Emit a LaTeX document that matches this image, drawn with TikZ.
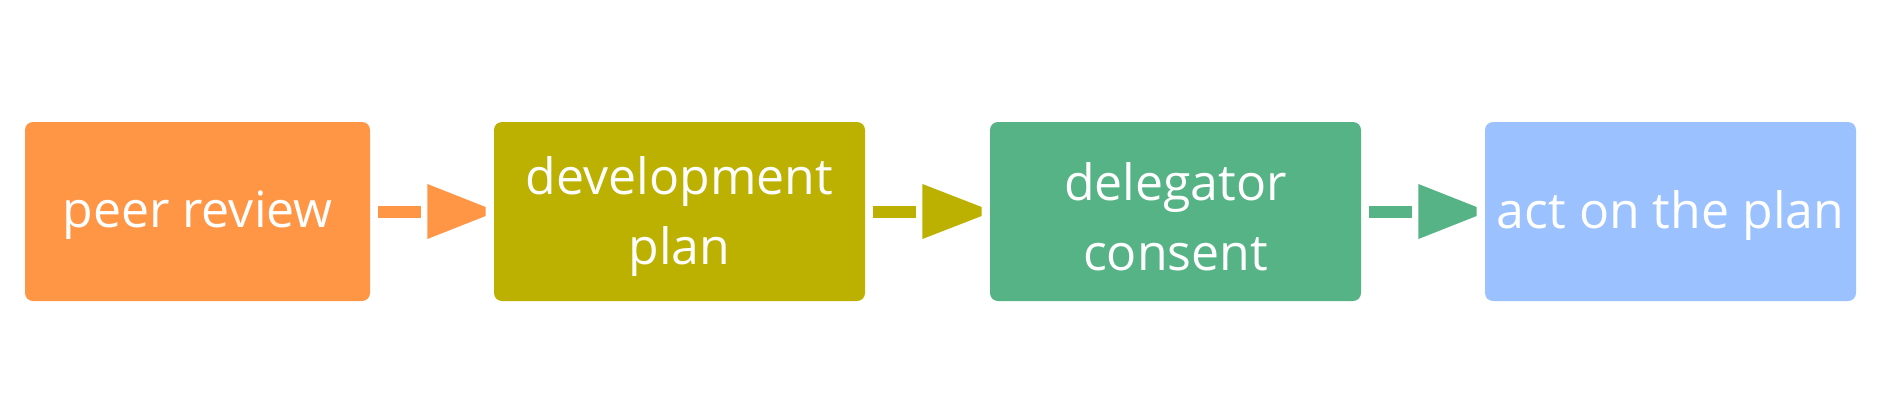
\documentclass[tikz,border=0pt]{standalone}
\usepackage{fontspec}
\setmainfont{Open Sans}
\usetikzlibrary{calc}
\definecolor{cOrange}{HTML}{FF9646}
\definecolor{cOlive}{HTML}{BCB000}
\definecolor{cGreen}{HTML}{56B386}
\definecolor{cBlue}{HTML}{9BC1FF}
\newcommand{\lowr}[2]{\raisebox{-#1}[\height][\depth]{#2}}
\tikzset{
  stagebox/.style={rectangle, rounded corners=4pt, minimum height=89.5pt,
    inner sep=0pt, text=white, align=center,
    font=\fontsize{25pt}{35pt}\selectfont},
  linkbar/.style={line width=6pt},
}
\begin{document}
\begin{tikzpicture}[x=0.5pt,y=-0.5pt]
\useasboundingbox (0,0) rectangle (1886,408);
\node[stagebox, fill=cOrange, minimum width=172.5pt] (a) at (197.5,211.5) {\lowr{1.8pt}{peer review}};
\node[stagebox, fill=cOlive, minimum width=185.5pt] (b) at (679.5,211.5) {\lowr{2.7pt}{development}\\\lowr{2.7pt}{plan}};
\node[stagebox, fill=cGreen, minimum width=185.5pt] (c) at (1175.5,211.5) {\lowr{2.7pt}{delegator}\\\lowr{2.7pt}{consent}};
\node[stagebox, fill=cBlue, minimum width=185.5pt] (d) at (1670.5,211.5) {\lowr{1.8pt}{act on the plan}};
\foreach \s/\t/\col in {a/b/cOrange, b/c/cOlive, c/d/cGreen}{
  \draw[linkbar, \col] ([xshift=4pt]\s.east) -- ([xshift=25.5pt]\s.east);
  \fill[\col] ([xshift=28.5pt,yshift=13.75pt]\s.east) -- ([xshift=-4pt,yshift=2.25pt]\t.west)
    -- ([xshift=-4pt,yshift=-2.25pt]\t.west) -- ([xshift=28.5pt,yshift=-13.75pt]\s.east) -- cycle;
}
\end{tikzpicture}
\end{document}
